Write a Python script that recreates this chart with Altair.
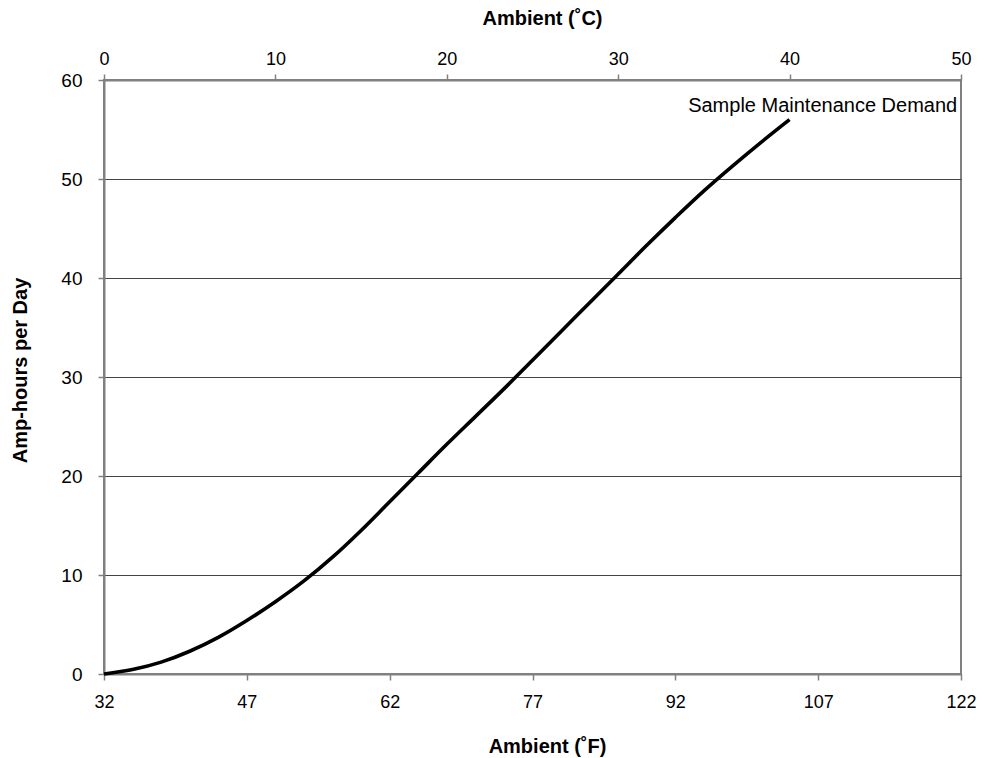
import altair as alt
import pandas as pd

# Ambient temperature (°F) and maintenance demand (Amp-hours per day)
temp_f = [32, 35, 38, 41, 44, 47, 50, 53, 56, 59, 62, 65, 68, 71, 74, 77, 80, 83, 86, 89, 92, 95, 98, 101, 104]
amp_hours = [0.0, 0.45, 1.2, 2.3, 3.7, 5.4, 7.3, 9.4, 11.8, 14.5, 17.4, 20.3, 23.2, 26.0, 28.8, 31.7, 34.6, 37.5, 40.4, 43.3, 46.1, 48.8, 51.3, 53.7, 56.0]

f_ticks = [32, 47, 62, 77, 92, 107, 122]
c_ticks = [0, 10, 20, 30, 40, 50]
y_ticks = [0, 10, 20, 30, 40, 50, 60]

series_label = "Sample Maintenance Demand"
label_f = 121.6
label_y = 57.4

FONT = "Liberation Sans"

df = pd.DataFrame({"F": temp_f, "AH": amp_hours})
df["C"] = (df["F"] - 32) * 5 / 9
lab = pd.DataFrame({"F": [label_f], "AH": [label_y], "t": [series_label]})

common = dict(
    domainColor="#808080", domainWidth=2, tickColor="#808080", tickSize=6, tickWidth=1.5,
    labelFont=FONT, labelColor="black", labelFlush=False,
    titleFont=FONT, titleFontSize=20, titleFontWeight="bold", titleColor="black",
)

yscale = alt.Scale(domain=[0, 60], nice=False)
yaxis = alt.Axis(
    values=y_ticks, title="Amp-hours per Day", grid=True, gridColor="#444444", gridWidth=1,
    labelPadding=16, labelFontSize=19,
    titleX=-84, titleY=290, titleAngle=-90, titleAlign="center", titleBaseline="middle",
    **common,
)

line = alt.Chart(df).mark_line(color="black", strokeWidth=3.6, interpolate="monotone").encode(
    x=alt.X("F:Q", scale=alt.Scale(domain=[32, 122], nice=False),
            axis=alt.Axis(orient="bottom", values=f_ticks, title="Ambient (˚F)", grid=False,
                          labelFontSize=18, labelPadding=13, titleX=443, titleY=72,
                          titleBaseline="middle", **common)),
    y=alt.Y("AH:Q", scale=yscale, axis=yaxis),
)

text = alt.Chart(lab).mark_text(align="right", baseline="middle", fontSize=20, font=FONT, color="black").encode(
    x=alt.X("F:Q", scale=alt.Scale(domain=[32, 122], nice=False), axis=None),
    y=alt.Y("AH:Q", scale=yscale),
    text="t:N",
)

ctop = alt.Chart(df).mark_point(opacity=0).encode(
    x=alt.X("C:Q", scale=alt.Scale(domain=[0, 50], nice=False),
            axis=alt.Axis(orient="top", values=c_ticks, title="Ambient (˚C)", grid=False,
                          labelFontSize=18, labelPadding=6, titleX=438, titleY=-62,
                          titleBaseline="middle", **common)),
    y=alt.Y("AH:Q", scale=yscale),
)

chart = alt.layer(line, text, ctop).resolve_scale(x="independent").properties(
    width=857, height=594,
    autosize=alt.AutoSizeParams(type="none"),
    padding={"left": 96, "top": 72, "right": 15, "bottom": 84},
    background="white",
).configure_view(stroke="#808080", strokeWidth=2)

chart.save("out.html", embed_options={"renderer": "svg", "actions": False})
